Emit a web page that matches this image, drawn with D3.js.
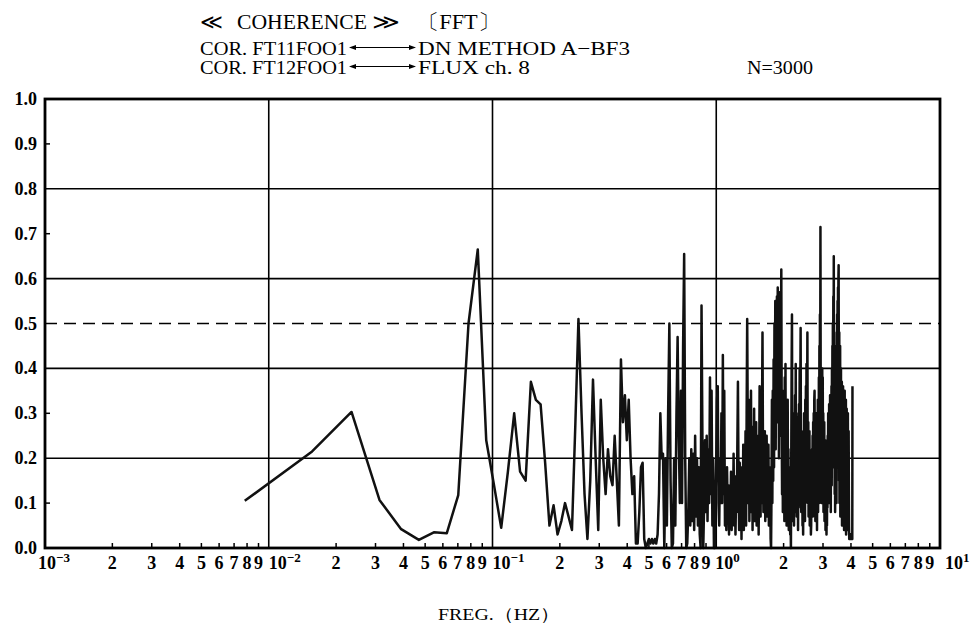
<!DOCTYPE html>
<html>
<head>
<meta charset="utf-8">
<script src="https://cdn.jsdelivr.net/npm/d3@7"></script>
<style>
  html, body { margin: 0; padding: 0; background: #fff; }
  svg { display: block; }
  text { font-family: "Liberation Serif", "DejaVu Serif", serif; fill: #000; }
</style>
</head>
<body>
<svg id="chart" width="973" height="626"></svg>
<script>
// ---- data -------------------------------------------------------------
// Frequency resolution of the spectrum (Hz per FFT bin); first value is bin 1.
const FREQ_STEP_HZ = 0.0078125;

// Coherence per FFT bin (bins 1 .. 520)
const coherence = [
  0.105, 0.215, 0.303, 0.107, 0.042, 0.018, 0.035, 0.033, 0.118, 0.50,   // 1-10
  0.665, 0.24, 0.14, 0.045, 0.17, 0.30, 0.17, 0.15, 0.37, 0.33,          // 11-20
  0.32, 0.19, 0.05, 0.095, 0.03, 0.06, 0.10, 0.07, 0.04, 0.27,           // 21-30
  0.51, 0.30, 0.12, 0.02, 0.15, 0.375, 0.20, 0.04, 0.33, 0.20,           // 31-40
  0.12, 0.22, 0.16, 0.14, 0.25, 0.15, 0.05, 0.42, 0.28, 0.34,            // 41-50
  0.24, 0.33, 0.20, 0.12, 0.16, 0.01, 0.01, 0.08, 0.18, 0.19,            // 51-60
  0.02, 0.00, 0.01, 0.02, 0.01, 0.02, 0.01, 0.02, 0.01, 0.03,            // 61-70
  0.12, 0.30, 0.20, 0.21, 0.00, 0.20, 0.05, 0.30, 0.50, 0.15,            // 71-80
  0.00, 0.01, 0.20, 0.05, 0.30, 0.47, 0.25, 0.10, 0.35, 0.10,            // 81-90
  0.45, 0.655, 0.20, 0.00, 0.01, 0.08, 0.20, 0.05, 0.22, 0.06,           // 91-100
  0.21, 0.04, 0.25, 0.07, 0.20, 0.05, 0.18, 0.03, 0.00, 0.54,            // 101-110
  0.25, 0.00, 0.10, 0.24, 0.08, 0.25, 0.06, 0.22, 0.10, 0.38,            // 111-120
  0.12, 0.35, 0.05, 0.20, 0.00, 0.00, 0.10, 0.20, 0.33, 0.36,            // 121-130
  0.10, 0.05, 0.20, 0.10, 0.30, 0.10, 0.43, 0.12, 0.35, 0.05,            // 131-140
  0.15, 0.04, 0.18, 0.08, 0.14, 0.03, 0.12, 0.06, 0.17, 0.04,            // 141-150
  0.13, 0.07, 0.21, 0.05, 0.16, 0.03, 0.12, 0.08, 0.22, 0.37,            // 151-160
  0.15, 0.04, 0.19, 0.06, 0.15, 0.02, 0.18, 0.07, 0.23, 0.04,            // 161-170
  0.20, 0.09, 0.26, 0.05, 0.30, 0.51, 0.28, 0.10, 0.33, 0.06,            // 171-180
  0.30, 0.12, 0.35, 0.08, 0.27, 0.04, 0.24, 0.10, 0.31, 0.06,            // 181-190
  0.22, 0.12, 0.28, 0.05, 0.20, 0.09, 0.25, 0.03, 0.18, 0.36,            // 191-200
  0.14, 0.07, 0.25, 0.10, 0.30, 0.48, 0.22, 0.08, 0.24, 0.11,            // 201-210
  0.26, 0.06, 0.22, 0.12, 0.25, 0.07, 0.20, 0.10, 0.23, 0.05,            // 211-220
  0.18, 0.08, 0.15, 0.02, 0.00, 0.12, 0.33, 0.10, 0.35, 0.15,            // 221-230
  0.42, 0.18, 0.50, 0.30, 0.55, 0.22, 0.52, 0.35, 0.56, 0.28,            // 231-240
  0.58, 0.33, 0.55, 0.20, 0.50, 0.36, 0.57, 0.25, 0.45, 0.62,            // 241-250
  0.30, 0.12, 0.35, 0.08, 0.28, 0.15, 0.30, 0.06, 0.38, 0.12,            // 251-260
  0.41, 0.09, 0.30, 0.05, 0.25, 0.10, 0.33, 0.07, 0.22, 0.04,            // 261-270
  0.18, 0.06, 0.15, 0.03, 0.08, 0.00, 0.20, 0.40, 0.52, 0.20,            // 271-280
  0.06, 0.30, 0.10, 0.26, 0.05, 0.28, 0.12, 0.34, 0.08, 0.41,            // 281-290
  0.15, 0.30, 0.07, 0.25, 0.11, 0.29, 0.04, 0.22, 0.09, 0.32,            // 291-300
  0.13, 0.40, 0.18, 0.35, 0.49, 0.20, 0.08, 0.26, 0.12, 0.20,            // 301-310
  0.05, 0.10, 0.03, 0.24, 0.08, 0.30, 0.12, 0.27, 0.06, 0.33,            // 311-320
  0.10, 0.36, 0.15, 0.41, 0.20, 0.30, 0.48, 0.22, 0.10, 0.28,            // 321-330
  0.07, 0.24, 0.12, 0.26, 0.05, 0.20, 0.09, 0.15, 0.03, 0.05,            // 331-340
  0.18, 0.08, 0.22, 0.11, 0.25, 0.07, 0.28, 0.13, 0.30, 0.09,            // 341-350
  0.33, 0.35, 0.14, 0.26, 0.06, 0.22, 0.10, 0.30, 0.15, 0.25,            // 351-360
  0.04, 0.21, 0.11, 0.33, 0.08, 0.27, 0.13, 0.38, 0.10, 0.45,            // 361-370
  0.20, 0.52, 0.30, 0.715, 0.35, 0.18, 0.30, 0.10, 0.36, 0.14,           // 371-380
  0.40, 0.22, 0.38, 0.12, 0.30, 0.08, 0.25, 0.15, 0.28, 0.06,            // 381-390
  0.20, 0.10, 0.24, 0.04, 0.17, 0.08, 0.13, 0.03, 0.10, 0.05,            // 391-400
  0.18, 0.09, 0.25, 0.14, 0.30, 0.12, 0.27, 0.17, 0.32, 0.10,            // 401-410
  0.28, 0.19, 0.34, 0.15, 0.29, 0.08, 0.31, 0.20, 0.36, 0.14,            // 411-420
  0.40, 0.22, 0.45, 0.18, 0.50, 0.25, 0.56, 0.30, 0.65, 0.35,            // 421-430
  0.20, 0.42, 0.12, 0.38, 0.08, 0.33, 0.18, 0.45, 0.15, 0.40,            // 431-440
  0.10, 0.48, 0.22, 0.52, 0.18, 0.55, 0.26, 0.58, 0.30, 0.60,            // 441-450
  0.63, 0.35, 0.15, 0.48, 0.10, 0.42, 0.20, 0.45, 0.07, 0.38,            // 451-460
  0.16, 0.40, 0.09, 0.35, 0.13, 0.37, 0.05, 0.30, 0.11, 0.33,            // 461-470
  0.12, 0.36, 0.06, 0.31, 0.14, 0.34, 0.04, 0.28, 0.10, 0.35,            // 471-480
  0.17, 0.30, 0.06, 0.27, 0.12, 0.33, 0.03, 0.25, 0.09, 0.31,            // 481-490
  0.15, 0.28, 0.05, 0.24, 0.11, 0.30, 0.04, 0.22, 0.08, 0.26,            // 491-500
  0.13, 0.05, 0.02, 0.03, 0.02, 0.03, 0.02, 0.03, 0.02, 0.03,            // 501-510
  0.02, 0.03, 0.02, 0.03, 0.02, 0.03, 0.02, 0.03, 0.02, 0.36             // 511-520
];

const yTickValues   = [0.0, 0.1, 0.2, 0.3, 0.4, 0.5, 0.6, 0.7, 0.8, 0.9, 1.0];
const yGridSolid    = [0.2, 0.4, 0.6, 0.8];
const yGridDashed   = [0.5];
const yMinorTicks   = [0.1, 0.3, 0.7, 0.9];
const xDecades      = [1e-3, 1e-2, 1e-1, 1, 10];
const decadeExps    = ["−3", "−2", "−1", "0", "1"];
const xGridDecades  = [1e-2, 1e-1, 1];
const minorDigits   = [2, 3, 4, 5, 6, 7, 8, 9];

const titleParts = ["≪", "COHERENCE", "≫", "〔FFT〕"];
const pairLeft   = ["COR. FT11FOO1", "COR. FT12FOO1"];
const pairRight  = ["DN  METHOD  A−BF3", "FLUX  ch. 8"];
const countLabel = "N=3000";
const xAxisTitle = "FREG.（HZ）";

// ---- layout -------------------------------------------------------------
const W = 973, H = 626;
const plot = { left: 45, right: 940, top: 99, bottom: 548 };

const svg = d3.select("#chart");
svg.append("rect").attr("width", W).attr("height", H).attr("fill", "#fff");

const x = d3.scaleLog().domain([1e-3, 10]).range([plot.left, plot.right]);
const y = d3.scaleLinear().domain([0, 1]).range([plot.bottom, plot.top]);

// ---- grid ---------------------------------------------------------------
const grid = svg.append("g").attr("stroke", "#000").attr("fill", "none");

grid.selectAll("line.hgrid").data(yGridSolid).join("line")
  .attr("x1", plot.left).attr("x2", plot.right)
  .attr("y1", d => y(d)).attr("y2", d => y(d))
  .attr("stroke-width", 1.6);

grid.selectAll("line.hdash").data(yGridDashed).join("line")
  .attr("x1", plot.left).attr("x2", plot.right)
  .attr("y1", d => y(d)).attr("y2", d => y(d))
  .attr("stroke-width", 1.6)
  .attr("stroke-dasharray", "12,7");

grid.selectAll("line.vgrid").data(xGridDecades).join("line")
  .attr("x1", d => x(d)).attr("x2", d => x(d))
  .attr("y1", plot.top).attr("y2", plot.bottom)
  .attr("stroke-width", 1.6);

// minor ticks on the frequency axis (inside, pointing up)
const minorTickVals = [];
xDecades.slice(0, -1).forEach(d => minorDigits.forEach(n => minorTickVals.push(d * n)));
grid.selectAll("line.xminor").data(minorTickVals).join("line")
  .attr("x1", d => x(d)).attr("x2", d => x(d))
  .attr("y1", plot.bottom).attr("y2", plot.bottom - 5)
  .attr("stroke-width", 1.5);

// odd-tenth ticks on the coherence axis (inside, pointing right)
grid.selectAll("line.yminor").data(yMinorTicks).join("line")
  .attr("x1", plot.left).attr("x2", plot.left + 5)
  .attr("y1", d => y(d)).attr("y2", d => y(d))
  .attr("stroke-width", 1.5);

// ---- coherence curve ------------------------------------------------------
const series = coherence.map((v, i) => ({ f: (i + 1) * FREQ_STEP_HZ, v }));
const line = d3.line().x(d => x(d.f)).y(d => y(d.v));

svg.append("path")
  .datum(series)
  .attr("d", line)
  .attr("fill", "none")
  .attr("stroke", "#111")
  .attr("stroke-width", 2.5)
  .attr("stroke-linejoin", "round");

// ---- frame ---------------------------------------------------------------
svg.append("rect")
  .attr("x", plot.left).attr("y", plot.top)
  .attr("width", plot.right - plot.left).attr("height", plot.bottom - plot.top)
  .attr("fill", "none").attr("stroke", "#000").attr("stroke-width", 2.8);

// ---- y labels --------------------------------------------------------------
svg.append("g").selectAll("text").data(yTickValues).join("text")
  .attr("x", 37).attr("y", d => y(d) + 6)
  .attr("text-anchor", "end")
  .attr("font-size", 18)
  .attr("font-weight", "bold")
  .text(d => d.toFixed(1));

// ---- x labels --------------------------------------------------------------
const xl = svg.append("g").attr("font-size", 18).attr("font-weight", "bold");
const labelBase = 569;

xl.selectAll("text.minor").data(minorTickVals).join("text")
  .attr("x", d => x(d)).attr("y", labelBase)
  .attr("text-anchor", "middle")
  .text(d => Math.round(d / Math.pow(10, Math.floor(Math.log10(d) + 1e-9))));

const decadeShift = [-7, 0, 0, -1, 5];
xDecades.forEach((d, i) => {
  const t = xl.append("text")
    .attr("x", x(d) + decadeShift[i]).attr("y", labelBase)
    .attr("text-anchor", "start");
  t.append("tspan").text("10");
  t.append("tspan").attr("font-size", 13).attr("dy", -7).text(decadeExps[i]);
});

svg.append("text")
  .attr("x", 438).attr("y", 620)
  .attr("font-size", 17)
  .attr("textLength", 122).attr("lengthAdjust", "spacingAndGlyphs")
  .text(xAxisTitle);

// ---- heading ---------------------------------------------------------------
const head = svg.append("g");
const titleX = [200, 237, 372, 417];
const titleLen = [23, 130, 28, 83];
titleParts.forEach((s, i) => {
  head.append("text")
    .attr("x", titleX[i]).attr("y", 29)
    .attr("font-size", 21)
    .attr("textLength", titleLen[i]).attr("lengthAdjust", "spacingAndGlyphs")
    .text(s);
});

const pairY = [55, 74];
pairLeft.forEach((s, i) => {
  head.append("text").attr("x", 200).attr("y", pairY[i])
    .attr("font-size", 19)
    .attr("textLength", 147).attr("lengthAdjust", "spacingAndGlyphs")
    .text(s);
  head.append("text").attr("x", 418).attr("y", pairY[i])
    .attr("font-size", 19)
    .attr("textLength", i === 0 ? 212 : 112).attr("lengthAdjust", "spacingAndGlyphs")
    .text(pairRight[i]);
  // double-headed arrow joining the two channel names
  const ay = pairY[i] - 7.5, ax1 = 349, ax2 = 416;
  head.append("line").attr("x1", ax1 + 4).attr("x2", ax2 - 4)
    .attr("y1", ay).attr("y2", ay).attr("stroke", "#000").attr("stroke-width", 1.2);
  head.append("path")
    .attr("d", `M${ax1},${ay} L${ax1 + 7},${ay - 2.5} L${ax1 + 7},${ay + 2.5} Z M${ax2},${ay} L${ax2 - 7},${ay - 2.5} L${ax2 - 7},${ay + 2.5} Z`)
    .attr("fill", "#000");
});

head.append("text").attr("x", 747).attr("y", 74)
  .attr("font-size", 19)
  .attr("textLength", 66).attr("lengthAdjust", "spacingAndGlyphs")
  .text(countLabel);
</script>
</body>
</html>
